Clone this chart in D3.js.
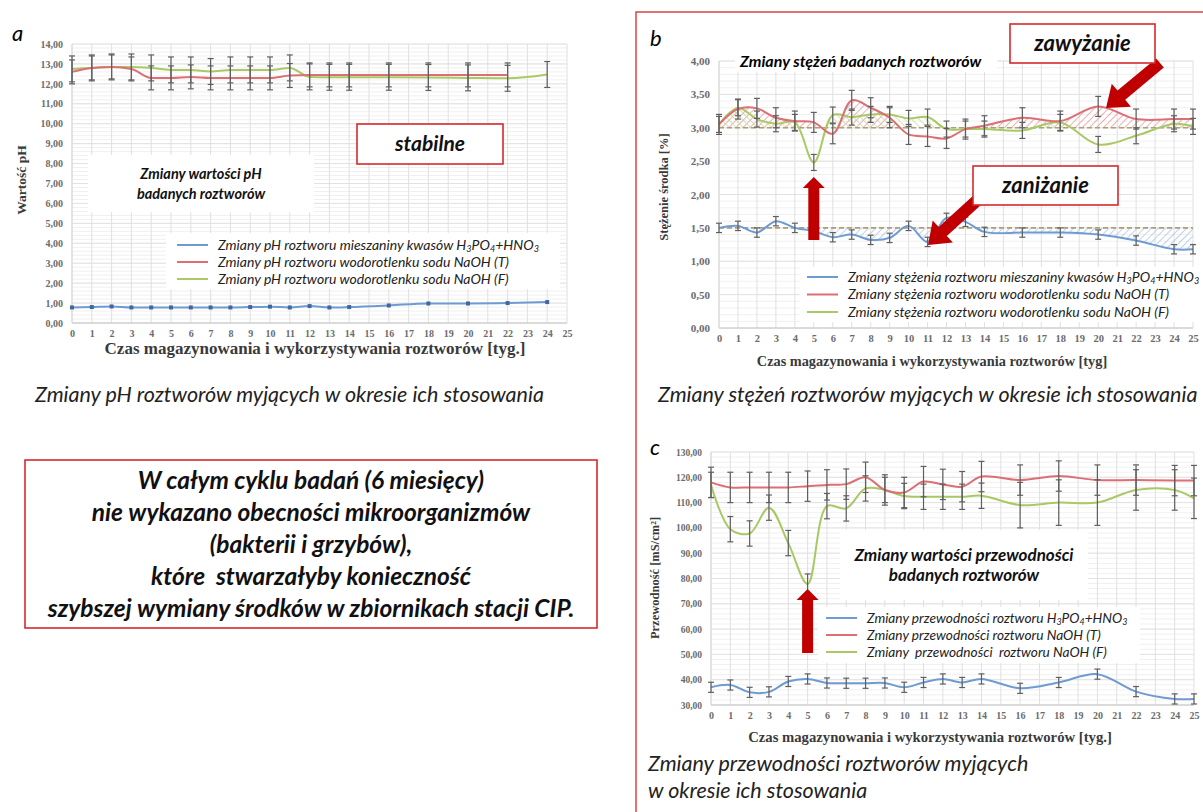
<!DOCTYPE html>
<html>
<head>
<meta charset="utf-8">
<script src="https://cdn.jsdelivr.net/npm/d3@7"></script>
<style>
body { margin: 0; background: #fff; }
svg text { font-family: Lato, "Open Sans", sans-serif; }
.tick text { font-family: "Liberation Serif", serif; font-weight: bold; fill: #6b6b6b; }
.axtitle { font-family: "Liberation Serif", serif; font-weight: bold; fill: #3a3a3a; }
</style>
</head>
<body>
<svg id="fig" width="1203" height="812"></svg>
<script>
// ---- data ----
var weeksA = [0, 1, 2, 3, 4, 5, 6, 7, 8, 9, 10, 11, 12, 13, 14, 16, 18, 20, 22, 24];
var weeksBC = [0, 1, 2, 3, 4, 5, 6, 7, 8, 9, 10, 11, 12, 13, 14, 16, 18, 20, 22, 24, 25];
var xTickLabels = [0, 1, 2, 3, 4, 5, 6, 7, 8, 9, 10, 11, 12, 13, 14, 15, 16, 17, 18, 19, 20, 21, 22, 23, 24, 25];

// a: pH
var phAcid = [0.78, 0.80, 0.83, 0.78, 0.78, 0.78, 0.78, 0.78, 0.78, 0.80, 0.82, 0.78, 0.85, 0.78, 0.80, 0.88, 0.98, 0.98, 1.00, 1.05];
var phNaohT = [12.60, 12.80, 12.85, 12.75, 12.30, 12.30, 12.35, 12.30, 12.30, 12.30, 12.30, 12.42, 12.45, 12.45, 12.45, 12.45, 12.45, 12.45, 12.45, null];
var phNaohF = [12.75, 12.80, 12.85, 12.85, 12.80, 12.70, 12.70, 12.62, 12.70, 12.70, 12.70, 12.80, 12.35, 12.33, 12.33, 12.33, 12.32, 12.30, 12.28, 12.47];
var phErrT = 0.6, phErrF = 0.65;
var yTicksA = [0, 1, 2, 3, 4, 5, 6, 7, 8, 9, 10, 11, 12, 13, 14];

// b: concentration [%]
var concAcid = [1.50, 1.53, 1.43, 1.60, 1.50, 1.45, 1.36, 1.40, 1.32, 1.35, 1.53, 1.29, 1.65, 1.59, 1.44, 1.43, 1.43, 1.40, 1.31, 1.18, 1.18];
var concNaohT = [3.05, 3.28, 3.29, 3.15, 3.10, 3.08, 2.91, 3.41, 3.30, 3.15, 2.90, 2.87, 2.84, 2.98, 3.03, 3.15, 3.10, 3.32, 3.13, 3.13, 3.13];
var concNaohF = [3.05, 3.30, 3.13, 3.06, 3.08, 2.48, 3.19, 3.16, 3.20, 3.20, 3.14, 3.16, 2.98, 2.98, 2.98, 2.96, 3.08, 2.75, 2.88, 3.06, 3.02];
var concErrAcid = 0.07, concErrT = 0.15, concErrF = 0.12;
var concTargetNaoh = 3.0, concTargetAcid = 1.5;
var yTicksB = [0, 0.5, 1, 1.5, 2, 2.5, 3, 3.5, 4];

// c: conductivity [mS/cm2]
var condAcid = [37.0, 37.9, 35.0, 35.2, 39.3, 40.3, 38.7, 38.6, 38.6, 38.7, 37.0, 38.9, 40.3, 38.9, 40.3, 36.6, 38.9, 42.2, 35.3, 32.4, 32.4];
var condNaohT = [118, 116, 116, 116, 116, 116.5, 117, 117.3, 120, 115, 114, 118.3, 117.2, 116.3, 120.3, 118.9, 120.5, 118.9, 118.9, 118.7, 118.7];
var condNaohF = [117, 99.5, 97.8, 108, 94, 77.8, 108.6, 107.7, 115.6, 115, 112.6, 112.3, 112.3, 112.3, 112.7, 109, 110, 110, 115, 115, 111.7];
var condErrAcid = 2, condErrT = 6;
var condErrF = [5, 5, 5, 5, 5, 4, 5, 5, 5, 5, 5, 5, 5, 5, 5, 9, 9, 9, 8, 8, 8];
var yTicksC = [30, 40, 50, 60, 70, 80, 90, 100, 110, 120, 130];

var legendA = ["Zmiany pH roztworu mieszaniny kwasów H_3PO_4+HNO_3", "Zmiany pH roztworu wodorotlenku sodu NaOH (T)", "Zmiany pH roztworu wodorotlenku sodu NaOH (F)"];
var legendB = ["Zmiany stężenia roztworu mieszaniny kwasów H_3PO_4+HNO_3", "Zmiany stężenia roztworu wodorotlenku sodu NaOH (T)", "Zmiany stężenia roztworu wodorotlenku sodu NaOH (F)"];
var legendC = ["Zmiany przewodności roztworu H_3PO_4+HNO_3", "Zmiany przewodności roztworu NaOH (T)", "Zmiany  przewodności  roztworu NaOH (F)"];

var BLUE = "#6e9bd2", RED = "#dc6f73", GREEN = "#a9c965", RED_BOX = "#d62a2a", ARROW = "#c00000";

var svg = d3.select("#fig");
var defs = svg.append("defs");

var fmt2 = function (v) { return d3.format(".2f")(v).replace(".", ","); };

function zip(weeks, vals) {
    return weeks.map(function (w, i) { return { w: w, v: vals[i], i: i }; });
}

// hatch fill patterns
function hatch(id, color, angle) {
    var p = defs.append("pattern").attr("id", id)
        .attr("patternUnits", "userSpaceOnUse")
        .attr("width", 5).attr("height", 5)
        .attr("patternTransform", "rotate(" + angle + ")");
    p.append("line").attr("x1", 0).attr("y1", 0).attr("x2", 0).attr("y2", 5)
        .attr("stroke", color).attr("stroke-width", 1.3);
}
hatch("hRed", "#e08a8c", 45);
hatch("hGreen", "#bcd68f", -45);
hatch("hBlue", "#9dbbe0", 45);

// grid + axes of one panel
function frame(x, y, minor, yTicks, tickFontX, tickFontY) {
    var g = svg.append("g");
    var xr = x.range(), yr = y.range(), yd = y.domain();
    g.selectAll(".hmin").data(d3.range(yd[0], yd[1] + 1e-9, minor)).join("line")
        .attr("x1", xr[0]).attr("x2", xr[1])
        .attr("y1", function (d) { return y(d); }).attr("y2", function (d) { return y(d); })
        .attr("stroke", "#f0f0f0");
    g.selectAll(".hmaj").data(yTicks).join("line")
        .attr("x1", xr[0]).attr("x2", xr[1])
        .attr("y1", function (d) { return y(d); }).attr("y2", function (d) { return y(d); })
        .attr("stroke", "#e2e2e2");
    g.selectAll(".v").data(xTickLabels).join("line")
        .attr("x1", function (d) { return x(d); }).attr("x2", function (d) { return x(d); })
        .attr("y1", yr[0]).attr("y2", yr[1])
        .attr("stroke", "#e0e0e0");
    g.append("line").attr("x1", xr[0]).attr("x2", xr[1]).attr("y1", yr[0]).attr("y2", yr[0]).attr("stroke", "#c8c8c8");
    g.append("line").attr("x1", xr[0]).attr("x2", xr[0]).attr("y1", yr[0]).attr("y2", yr[1]).attr("stroke", "#d8d8d8");

    var ax = svg.append("g").attr("transform", "translate(0," + yr[0] + ")")
        .call(d3.axisBottom(x).tickValues(xTickLabels).tickFormat(d3.format("d")).tickSize(0).tickPadding(7));
    ax.select(".domain").remove();
    ax.selectAll("text").style("font-size", tickFontX + "px");
    var ay = svg.append("g").attr("transform", "translate(" + xr[0] + ",0)")
        .call(d3.axisLeft(y).tickValues(yTicks).tickFormat(fmt2).tickSize(0).tickPadding(9));
    ay.select(".domain").remove();
    ay.selectAll("text").style("font-size", tickFontY + "px");
}

function drawLine(x, y, data, color, curve, width) {
    var line = d3.line()
        .defined(function (d) { return d.v != null; })
        .x(function (d) { return x(d.w); }).y(function (d) { return y(d.v); })
        .curve(curve);
    return svg.append("path").datum(data)
        .attr("d", line).attr("fill", "none")
        .attr("stroke", color).attr("stroke-width", width || 2);
}

function errorBars(x, y, data, err) {
    var g = svg.append("g").attr("stroke", "#5f5f5f").attr("stroke-width", 1.2);
    data.filter(function (d) { return d.v != null; }).forEach(function (d) {
        var e = Array.isArray(err) ? err[d.i] : err;
        var cx = x(d.w), t = y(d.v + e), b = y(d.v - e);
        g.append("line").attr("x1", cx).attr("x2", cx).attr("y1", t).attr("y2", b);
        g.append("line").attr("x1", cx - 3).attr("x2", cx + 3).attr("y1", t).attr("y2", t);
        g.append("line").attr("x1", cx - 3).attr("x2", cx + 3).attr("y1", b).attr("y2", b);
    });
}

// text with _n subscripts
function richText(sel, str, size) {
    var parts = str.split(/_(\d)/), shift = 0;
    parts.forEach(function (p, k) {
        if (!p) return;
        var sub = k % 2 === 1;
        var t = sel.append("tspan").attr("dy", (sub ? 2 : 0) - shift).text(p);
        if (sub) t.attr("font-size", size * 0.65);
        shift = sub ? 2 : 0;
    });
}

function legend(x0, ys, labels, size, bg) {
    svg.append("rect").attr("x", bg[0]).attr("y", bg[1]).attr("width", bg[2]).attr("height", bg[3]).attr("fill", "#fff");
    [BLUE, RED, GREEN].forEach(function (c, i) {
        svg.append("line").attr("x1", x0).attr("x2", x0 + 31).attr("y1", ys[i]).attr("y2", ys[i])
            .attr("stroke", c).attr("stroke-width", 2);
        var t = svg.append("text").attr("x", x0 + 41).attr("y", ys[i] + size * 0.35)
            .attr("font-size", size).attr("font-style", "italic").attr("fill", "#222")
            .style("white-space", "pre");
        richText(t, labels[i], size);
    });
}

function boxText(rect, lines, size, lineH, stroke) {
    svg.append("rect").attr("x", rect[0]).attr("y", rect[1]).attr("width", rect[2]).attr("height", rect[3])
        .attr("fill", "#fff").attr("stroke", stroke || "none").attr("stroke-width", 1.6);
    var cx = rect[0] + rect[2] / 2, cy = rect[1] + rect[3] / 2;
    lines.forEach(function (l, i) {
        svg.append("text").attr("x", cx).attr("y", cy + (i - (lines.length - 1) / 2) * lineH + size * 0.35)
            .attr("text-anchor", "middle").attr("font-size", size)
            .attr("font-weight", "bold").attr("font-style", "italic").attr("fill", "#111")
            .style("white-space", "pre").text(l);
    });
}

function arrow(x1, y1, x2, y2, sw, hw, hl) {
    var dx = x2 - x1, dy = y2 - y1, L = Math.hypot(dx, dy), ux = dx / L, uy = dy / L, px = -uy, py = ux;
    var bx = x2 - ux * hl, by = y2 - uy * hl;
    var pts = [[x1 + px * sw / 2, y1 + py * sw / 2], [bx + px * sw / 2, by + py * sw / 2], [bx + px * hw / 2, by + py * hw / 2],
        [x2, y2], [bx - px * hw / 2, by - py * hw / 2], [bx - px * sw / 2, by - py * sw / 2], [x1 - px * sw / 2, y1 - py * sw / 2]];
    svg.append("polygon").attr("points", pts.map(function (p) { return p.join(","); }).join(" ")).attr("fill", ARROW);
}

function rotLabel(x, y, text, size) {
    svg.append("text").attr("class", "axtitle")
        .attr("transform", "translate(" + x + "," + y + ") rotate(-90)")
        .attr("text-anchor", "middle").attr("font-size", size).text(text);
}

function caption(x, y, text, size) {
    svg.append("text").attr("x", x).attr("y", y).attr("font-size", size)
        .attr("font-style", "italic").attr("fill", "#222").text(text);
}

var smooth = d3.curveCatmullRom.alpha(0.5);

// ================= panel a =================
var xa = d3.scaleLinear([0, 25], [72, 567]);
var ya = d3.scaleLinear([0, 14], [323, 44]);
frame(xa, ya, 0.2, yTicksA, 10, 10);
drawLine(xa, ya, zip(weeksA, phNaohF), GREEN, d3.curveMonotoneX);
drawLine(xa, ya, zip(weeksA, phNaohT), RED, d3.curveMonotoneX);
errorBars(xa, ya, zip(weeksA, phNaohF), phErrF);
errorBars(xa, ya, zip(weeksA, phNaohT), phErrT);
drawLine(xa, ya, zip(weeksA, phAcid), BLUE, d3.curveMonotoneX);
svg.append("g").selectAll("rect").data(zip(weeksA, phAcid)).join("rect")
    .attr("x", function (d) { return xa(d.w) - 2; }).attr("y", function (d) { return ya(d.v) - 2; })
    .attr("width", 4).attr("height", 4).attr("fill", "#41689b");
legend(177, [245, 262, 279], legendA, 14, [166, 233, 394, 56]);
boxText([88, 155, 226, 57], ["Zmiany wartości pH", "badanych roztworów"], 14.5, 20);
boxText([357, 124, 146, 40], ["stabilne"], 21, 0, RED_BOX);
svg.append("text").attr("class", "axtitle").attr("x", 315).attr("y", 354)
    .attr("text-anchor", "middle").attr("font-size", 17).text("Czas magazynowania i wykorzystywania roztworów [tyg.]");
rotLabel(26, 180, "Wartość pH", 13.5);
svg.append("text").attr("x", 12).attr("y", 41).attr("font-size", 22).attr("font-style", "italic").text("a");
caption(35, 402, "Zmiany pH roztworów myjących w okresie ich stosowania", 21.5);

// big statement box
boxText([25, 460, 572, 168], ["W całym cyklu badań (6 miesięcy)", "nie wykazano obecności mikroorganizmów",
    "(bakterii i grzybów),", "które  stwarzałyby konieczność", "szybszej wymiany środków w zbiornikach stacji CIP."], 24.5, 32, RED_BOX);

// ================= panel b =================
var xb = d3.scaleLinear([0, 25], [719, 1193]);
var yb = d3.scaleLinear([0, 4], [328, 61]);
frame(xb, yb, 0.1, yTicksB, 10.5, 11);

defs.append("clipPath").attr("id", "aboveT").append("rect")
    .attr("x", xb(0)).attr("y", yb(4)).attr("width", xb(25) - xb(0)).attr("height", yb(concTargetNaoh) - yb(4));
defs.append("clipPath").attr("id", "belowA").append("rect")
    .attr("x", xb(0)).attr("y", yb(concTargetAcid)).attr("width", xb(25) - xb(0)).attr("height", yb(0) - yb(concTargetAcid));

function hatchArea(data, base, fill, clip) {
    var area = d3.area().x(function (d) { return xb(d.w); })
        .y0(yb(base)).y1(function (d) { return yb(d.v); }).curve(smooth);
    svg.append("path").datum(data).attr("d", area).attr("fill", "url(#" + fill + ")").attr("clip-path", "url(#" + clip + ")");
}
hatchArea(zip(weeksBC, concNaohT), concTargetNaoh, "hRed", "aboveT");
hatchArea(zip(weeksBC, concNaohF), concTargetNaoh, "hGreen", "aboveT");
hatchArea(zip(weeksBC, concAcid), concTargetAcid, "hBlue", "belowA");

[concTargetNaoh, concTargetAcid].forEach(function (t) {
    svg.append("line").attr("x1", xb(0)).attr("x2", xb(25)).attr("y1", yb(t)).attr("y2", yb(t))
        .attr("stroke", "#b0a070").attr("stroke-width", 1.6).attr("stroke-dasharray", "5,3");
});
drawLine(xb, yb, zip(weeksBC, concNaohF), GREEN, smooth);
drawLine(xb, yb, zip(weeksBC, concNaohT), RED, smooth);
drawLine(xb, yb, zip(weeksBC, concAcid), BLUE, smooth);
errorBars(xb, yb, zip(weeksBC, concNaohT), concErrT);
errorBars(xb, yb, zip(weeksBC, concNaohF), concErrF);
errorBars(xb, yb, zip(weeksBC, concAcid), concErrAcid);
legend(807, [277, 294.5, 312], legendB, 14, [800, 267, 403, 55]);

svg.append("rect").attr("x", 735).attr("y", 48).attr("width", 262).attr("height", 24).attr("fill", "#fff");
svg.append("text").attr("x", 740).attr("y", 67).attr("font-size", 16).attr("font-weight", "bold")
    .attr("font-style", "italic").text("Zmiany stężeń badanych roztworów");

arrow(xb(5), 240, xb(5), 177, 11, 22, 11);
arrow(1160, 63, 1106, 108, 12, 30, 20);
arrow(984, 194, 928, 245, 12, 30, 20);
boxText([1010, 24, 145, 39], ["zawyżanie"], 22, 0, RED_BOX);
boxText([973, 166, 145, 39], ["zaniżanie"], 22, 0, RED_BOX);

svg.append("text").attr("class", "axtitle").attr("x", 932).attr("y", 366)
    .attr("text-anchor", "middle").attr("font-size", 14.3).text("Czas magazynowania i wykorzystywania roztworów [tyg]");
rotLabel(668, 187, "Stężenie środka [%]", 12.5);
svg.append("text").attr("x", 650).attr("y", 46).attr("font-size", 22).attr("font-style", "italic").text("b");
caption(658, 402, "Zmiany stężeń roztworów myjących w okresie ich stosowania", 21.5);

// ================= panel c =================
var xc = d3.scaleLinear([0, 25], [711, 1194]);
var yc = d3.scaleLinear([30, 130], [705, 452]);
frame(xc, yc, 2, yTicksC, 10, 9.5);
drawLine(xc, yc, zip(weeksBC, condNaohF), GREEN, smooth);
drawLine(xc, yc, zip(weeksBC, condNaohT), RED, smooth);
drawLine(xc, yc, zip(weeksBC, condAcid), BLUE, smooth);
errorBars(xc, yc, zip(weeksBC, condNaohT), condErrT);
errorBars(xc, yc, zip(weeksBC, condNaohF), condErrF);
errorBars(xc, yc, zip(weeksBC, condAcid), condErrAcid);
boxText([840, 530, 248, 70], ["Zmiany wartości przewodności", "badanych roztworów"], 17, 20);
legend(826, [618, 635, 652], legendC, 13.7, [818, 607, 322, 56]);
arrow(xc(5), 653, xc(5), 589, 11, 22, 11);

svg.append("text").attr("class", "axtitle").attr("x", 930).attr("y", 742)
    .attr("text-anchor", "middle").attr("font-size", 14.7).text("Czas magazynowania i wykorzystywania roztworów [tyg.]");
rotLabel(659, 578, "Przewodność [mS/cm²]", 12.5);
svg.append("text").attr("x", 650).attr("y", 455).attr("font-size", 22).attr("font-style", "italic").text("c");
caption(648, 771, "Zmiany przewodności roztworów myjących", 21.5);
caption(648, 798, "w okresie ich stosowania", 21.5);

// red frame around b and c
svg.append("rect").attr("x", 636).attr("y", 12).attr("width", 600).attr("height", 820)
    .attr("fill", "none").attr("stroke", "#d94545").attr("stroke-width", 1.5);
</script>
</body>
</html>
